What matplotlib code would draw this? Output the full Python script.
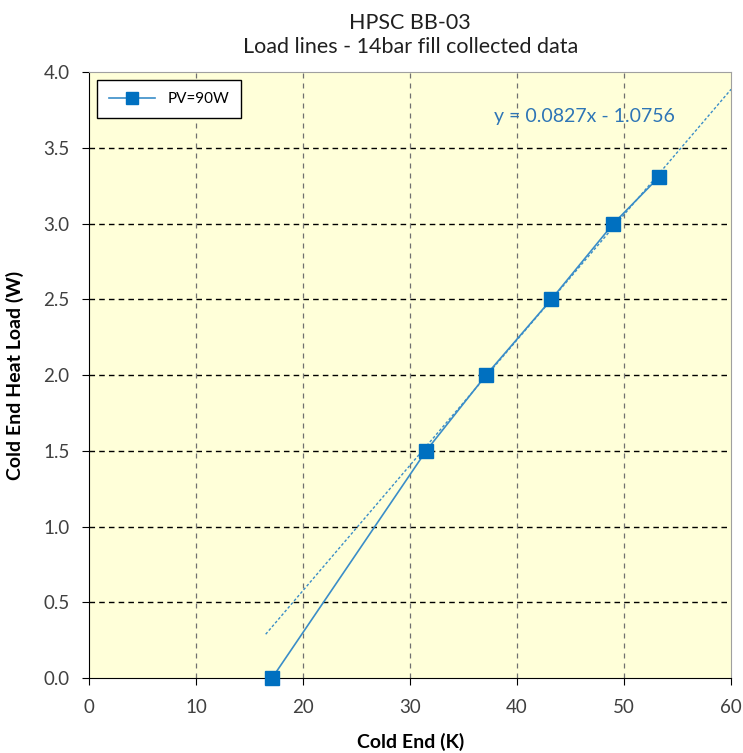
import numpy as np
import matplotlib.pyplot as plt

plt.rcParams['font.family'] = ['Lato', 'DejaVu Sans']

# data
cold_end = [17.1, 31.5, 37.1, 43.2, 49.0, 53.3]
heat_load = [0.0, 1.5, 2.0, 2.5, 3.0, 3.31]
slope = 0.0827
intercept = -1.0756
trend_x = [16.5, 60.0]
x_ticks = [0, 10, 20, 30, 40, 50, 60]
y_ticks = [0.0, 0.5, 1.0, 1.5, 2.0, 2.5, 3.0, 3.5, 4.0]

fig = plt.figure(figsize=(7.43, 7.53), dpi=100)
ax = fig.add_axes([0.12, 0.0996, 0.864, 0.8047])
ax.set_facecolor('#FFFFD9')

ax.plot(cold_end, heat_load, color='#3A8DC8', lw=1.2, marker='s', ms=10,
        mfc='#0070C0', mec='#0070C0', label='PV=90W', zorder=4, clip_on=False)
tx = np.array(trend_x)
ax.plot(tx, slope * tx + intercept, color='#3A8DC8', lw=1.0, ls=(0, (2, 1.5)), zorder=3)

ax.text(0.772, 0.926, 'y = 0.0827x - 1.0756', transform=ax.transAxes,
        color='#2E75B6', fontsize=14, ha='center', va='center')

ax.set_xlim(0, 60)
ax.set_ylim(0, 4.0)
ax.set_xticks(x_ticks)
ax.set_yticks(y_ticks)
ax.set_yticklabels(['%.1f' % v for v in y_ticks])
ax.tick_params(labelsize=13.5, labelcolor='#404040', color='black', length=5,
               direction='out')
ax.tick_params(axis='x', pad=10)
ax.tick_params(axis='y', pad=9)

for v in y_ticks[1:-1]:
    ax.axhline(v, color='black', lw=1.0, ls=(0, (4, 3)), zorder=1)
for v in x_ticks[1:-1]:
    ax.axvline(v, color='#707070', lw=0.9, ls=(0, (4, 4)), zorder=1)

ax.spines['left'].set_color('black')
ax.spines['bottom'].set_color('black')
ax.spines['top'].set_color('#A0A0A0')
ax.spines['right'].set_color('#A0A0A0')

ax.set_xlabel('Cold End (K)', fontsize=14, fontweight='bold', labelpad=12)
ax.set_ylabel('Cold End Heat Load (W)', fontsize=14, fontweight='bold', labelpad=14)
ax.set_title('HPSC BB-03\nLoad lines - 14bar fill collected data', fontsize=15.5,
             color='#202020', pad=14, linespacing=1.2)

leg = ax.legend(loc='upper left', bbox_to_anchor=(0.012, 0.987), borderaxespad=0,
                fontsize=11, frameon=True, fancybox=False, edgecolor='black',
                framealpha=1, handlelength=3.0, borderpad=0.8, markerscale=0.8)
leg.get_frame().set_linewidth(1.0)

plt.savefig('out.png', dpi=100)
